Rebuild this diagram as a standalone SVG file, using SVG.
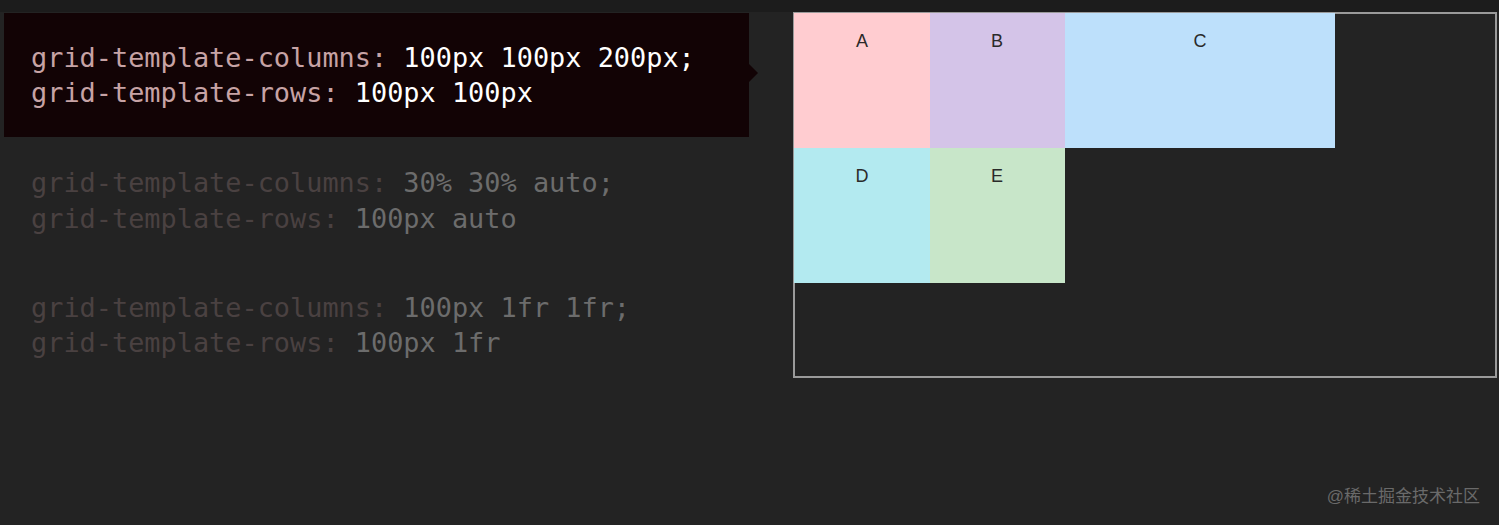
<svg xmlns="http://www.w3.org/2000/svg" width="1499" height="525" viewBox="0 0 1499 525">
<style>
.code{font-family:"DejaVu Sans Mono","Liberation Mono",monospace;font-size:26.9px}
.prop{fill:#c7a3a5}
.val{fill:#ffffff}
.fprop{fill:#4a4141}
.fval{fill:#6c6c6c}
.lbl{font-family:"Liberation Sans",Arial,sans-serif;font-size:18px;fill:#2a2a2a;text-anchor:middle}
.cell{stroke:none}
</style>
<rect x="0" y="0" width="1499" height="525" fill="#232323"/>
<rect x="0" y="0" width="1499" height="12" fill="#1c1c1c"/>
<g id="code-active">
<rect x="4" y="13" width="745" height="124" fill="#120305"/>
<polygon points="749,64 758,73 749,82" fill="#120305"/>
<text class="code" x="31" y="67"><tspan class="prop">grid-template-columns: </tspan><tspan class="val">100px 100px 200px;</tspan></text>
<text class="code" x="31" y="102"><tspan class="prop">grid-template-rows: </tspan><tspan class="val">100px 100px</tspan></text>
</g>
<g id="code-2">
<text class="code" x="31" y="192"><tspan class="fprop">grid-template-columns: </tspan><tspan class="fval">30% 30% auto;</tspan></text>
<text class="code" x="31" y="228"><tspan class="fprop">grid-template-rows: </tspan><tspan class="fval">100px auto</tspan></text>
</g>
<g id="code-3">
<text class="code" x="31" y="317"><tspan class="fprop">grid-template-columns: </tspan><tspan class="fval">100px 1fr 1fr;</tspan></text>
<text class="code" x="31" y="352"><tspan class="fprop">grid-template-rows: </tspan><tspan class="fval">100px 1fr</tspan></text>
</g>
<g id="grid-container">
<rect x="794" y="13" width="702" height="364" fill="none" stroke="#9a9a9a" stroke-width="2"/>
</g>
<g id="cell-A"><rect class="cell" x="794" y="13" width="136" height="135" fill="#ffccd0"/><text class="lbl" x="862" y="47">A</text></g>
<g id="cell-B"><rect class="cell" x="930" y="13" width="135" height="135" fill="#d4c4e8"/><text class="lbl" x="997" y="47">B</text></g>
<g id="cell-C"><rect class="cell" x="1065" y="13" width="270" height="135" fill="#bde0fb"/><text class="lbl" x="1200" y="47">C</text></g>
<g id="cell-D"><rect class="cell" x="794" y="148" width="136" height="135" fill="#b3eaf0"/><text class="lbl" x="862" y="182">D</text></g>
<g id="cell-E"><rect class="cell" x="930" y="148" width="135" height="135" fill="#c8e6c9"/><text class="lbl" x="997" y="182">E</text></g>
<g id="connectors"></g>
<text x="1480" y="502" text-anchor="end" font-family="'Liberation Sans','Noto Sans CJK SC',sans-serif" font-size="17" fill="#6a6a6a">@稀土掘金技术社区</text>
</svg>
